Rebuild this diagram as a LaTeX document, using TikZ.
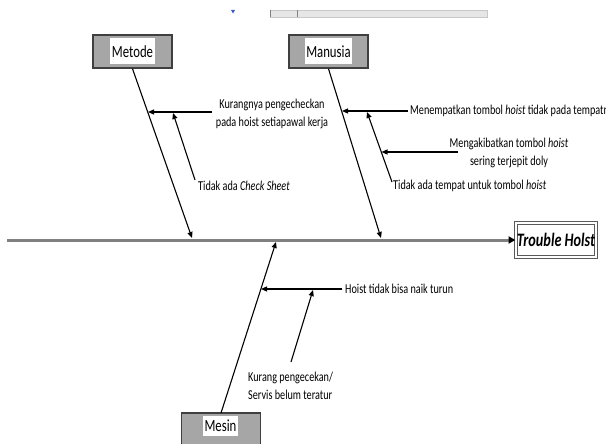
\documentclass[tikz,border=0pt]{standalone}
\usepackage{fontspec}
\setmainfont{Carlito}
\newfontfamily\lab[FakeStretch=0.75]{Carlito}
\usetikzlibrary{arrows.meta}
\definecolor{boxgray}{HTML}{A6A6A6}
\definecolor{boxedge}{HTML}{3F3F3F}
\definecolor{spinegray}{HTML}{808080}
\definecolor{barfill}{HTML}{E6E6E6}
\definecolor{baredge}{HTML}{C8C8C8}
\definecolor{markblue}{HTML}{3C5ABE}
\tikzset{
  bone/.style={draw=black, line width=1.1pt, -{Triangle[length=6pt,width=5pt]}},
  catbox/.style={draw=boxedge, line width=1.5pt, fill=boxgray, minimum width=79pt, minimum height=33pt, inner sep=0pt},
  catlabel/.style={fill=white, inner xsep=1.5pt, inner ysep=0pt, minimum height=26pt, font=\lab\fontsize{17}{20}\selectfont},
  cause/.style={inner sep=1pt, font=\lab\fontsize{13.6}{18}\selectfont},
}
\begin{document}
\begin{tikzpicture}[x=1pt,y=-1pt]
\useasboundingbox (0,0) rectangle (606,444);
\clip (0,0) rectangle (606,444);
% top artefacts
\filldraw[fill=barfill, draw=baredge, line width=0.5pt] (270,10) rectangle (487,17);
\draw[gray, line width=0.8pt] (270,10) -- (270,17) (297,10) -- (297,17);
\fill[markblue] (231,10) -- (235,10) -- (233,13.5) -- cycle;

% effect box
\node[draw=spinegray!70!black, line width=1pt, double=white, double distance=1.2pt, fill=white, minimum width=80pt, minimum height=34pt, inner sep=0pt, font=\lab\fontsize{19}{22}\selectfont\bfseries\itshape] (effect) at (556,240) {Trouble Holst};

% spine
\coordinate (s0) at (7,240);
\draw[spinegray, line width=3pt, -{Triangle[length=7pt,width=7pt,color=black]}] (s0) -- (effect.west);

% category boxes
\node[catbox] (metode) at (132.5,51.5) {};
\node[catlabel] (metodeL) at (metode.center) {Metode};
\node[catbox] (manusia) at (328.5,51.5) {};
\node[catlabel] (manusiaL) at (manusia.center) {Manusia};
\node[catbox, minimum height=36pt] (mesin) at (221,431) {};
\node[catlabel, minimum height=20pt] (mesinL) at (220.5,426) {Mesin};

% bones
\coordinate (mS) at (192,238);
\coordinate (nS) at (381,238);
\coordinate (eS) at (276,242);
\coordinate (mesinTop) at (221,413);
\draw[bone] (metode.south) -- (mS);
\draw[bone] (manusia.south) -- (nS);
\draw[bone] (mesinTop) -- (eS);

% Metode causes
\node[cause, align=center] (k1) at (272,114) {Kurangnya pengecheckan\\pada hoist setiapawal kerja};
\node[cause, anchor=west] (k2) at (197,186) {Tidak ada \textit{Check Sheet}};
\coordinate (k1s) at (212,112);
\coordinate (k1e) at (148,112);
\coordinate (k2s) at (195,180);
\coordinate (k2e) at (173,113);
\draw[bone] (k1s) -- (k1e);
\draw[bone] (k2s) -- (k2e);

% Manusia causes
\node[cause, anchor=west] (h1) at (409,111) {Menempatkan tombol \textit{hoist} tidak pada tempatnya};
\node[cause, align=center] (h3) at (509,153) {Mengakibatkan tombol \textit{hoist}\\sering terjepit doly};
\node[cause, anchor=west] (h2) at (392,186) {Tidak ada tempat untuk tombol \textit{hoist}};
\coordinate (h1s) at (408,111);
\coordinate (h1e) at (342,111);
\coordinate (h2s) at (392,182);
\coordinate (h2e) at (367,112);
\coordinate (h3s) at (458,152);
\coordinate (h3e) at (381.5,152);
\draw[bone] (h1s) -- (h1e);
\draw[bone] (h2s) -- (h2e);
\draw[bone] (h3s) -- (h3e);

% Mesin causes
\node[cause, anchor=west] (e1) at (344,289) {Hoist tidak bisa naik turun};
\node[cause, align=left, anchor=west] (e2) at (247,386) {Kurang pengecekan/\\Servis belum teratur};
\coordinate (e1s) at (342,289);
\coordinate (e1e) at (261,289);
\coordinate (e2s) at (291,362);
\coordinate (e2e) at (313,290);
\draw[bone] (e1s) -- (e1e);
\draw[bone] (e2s) -- (e2e);
\end{tikzpicture}
\end{document}
